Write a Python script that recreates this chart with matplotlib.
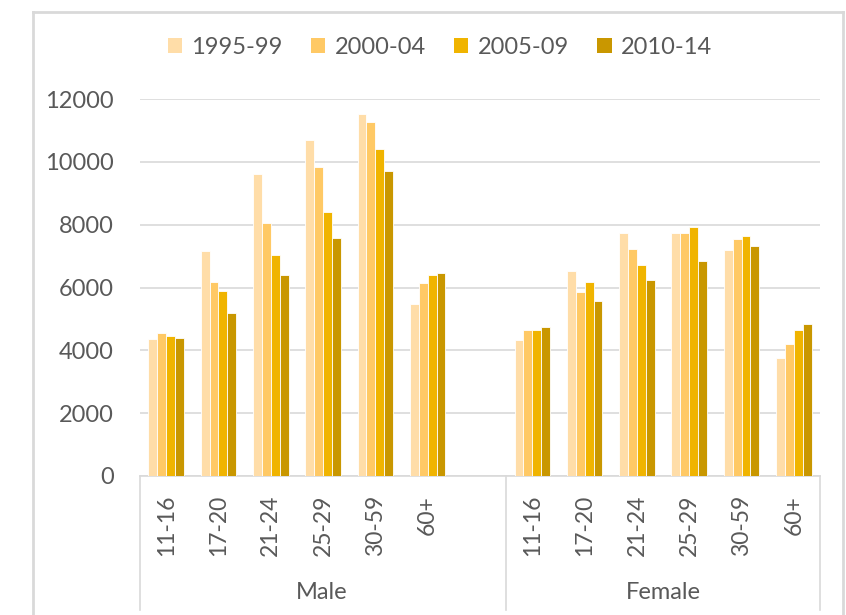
import matplotlib.pyplot as plt
from matplotlib.lines import Line2D
from matplotlib.patches import Patch
import numpy as np

plt.rcParams['font.family'] = ['Lato', 'DejaVu Sans']

# data
age_groups = ["11-16", "17-20", "21-24", "25-29", "30-59", "60+"]
sexes = ["Male", "Female"]
periods = ["1995-99", "2000-04", "2005-09", "2010-14"]
colors = ["#FFDDA8", "#FFC965", "#F0B400", "#C99700"]

male = {
    "1995-99": [4370, 7150, 9600, 10700, 11520, 5470],
    "2000-04": [4540, 6170, 8040, 9840, 11260, 6130],
    "2005-09": [4450, 5890, 7030, 8390, 10400, 6400],
    "2010-14": [4400, 5200, 6400, 7570, 9710, 6470],
}
female = {
    "1995-99": [4340, 6540, 7750, 7750, 7190, 3760],
    "2000-04": [4650, 5860, 7230, 7750, 7530, 4200],
    "2005-09": [4650, 6170, 6720, 7920, 7640, 4650],
    "2010-14": [4750, 5580, 6230, 6840, 7330, 4850],
}

fig = plt.figure(figsize=(8.46, 6.15), dpi=100)
W, H = 846, 615
ax = fig.add_axes([140 / W, 1 - 476 / H, 680 / W, 377 / H])

# slots: 0-5 male, 6 empty, 7-12 female
male_x = np.arange(6)
female_x = np.arange(6) + 7
w = 0.17
for i, p in enumerate(periods):
    off = (i - 1.5) * w
    ax.bar(male_x + off, male[p], width=w, color=colors[i], edgecolor="white", linewidth=0.6, zorder=3)
    ax.bar(female_x + off, female[p], width=w, color=colors[i], edgecolor="white", linewidth=0.6, zorder=3)

ax.set_xlim(-0.5, 12.5)
ax.set_ylim(0, 12000)
ax.set_yticks(range(0, 12001, 2000))
ax.tick_params(axis="y", length=0, labelsize=17, labelcolor="#595959", pad=19)
ax.set_xticks([])
ax.grid(axis="y", color="#D9D9D9", linewidth=1.2, zorder=0)
for s in ["left", "right", "top"]:
    ax.spines[s].set_visible(False)
ax.spines["bottom"].set_color("#D9D9D9")
ax.spines["bottom"].set_linewidth(1.2)

# category labels
tr = ax.get_xaxis_transform()
for xs in (male_x, female_x):
    for x, lab in zip(xs, age_groups):
        ax.text(x, -0.05, lab, rotation=90, ha="center", va="top", fontsize=16.5,
                color="#595959", transform=tr)
ax.text(2.98, -0.31, "Male", ha="center", va="center", fontsize=17, color="#595959", transform=tr)
ax.text(9.5, -0.31, "Female", ha="center", va="center", fontsize=17, color="#595959", transform=tr)
for x in (-0.5, 6.5, 12.5):
    ax.plot([x, x], [0, -0.355], color="#D9D9D9", linewidth=1.2, transform=tr, clip_on=False)

# legend
handles = [Patch(facecolor=c, edgecolor="none") for c in colors]
fig.legend(handles, periods, loc="center", bbox_to_anchor=(440 / W, 1 - 47 / H), ncol=4,
           frameon=False, fontsize=17, labelcolor="#595959", handlelength=0.6, handleheight=0.6,
           handletextpad=0.4, columnspacing=1.2)

# outer chart frame
fl, fr, ft = 33 / W, 843 / W, 1 - 12 / H
for xs, ys in [([fl, fl], [ft, 0]), ([fr, fr], [ft, 0]), ([fl, fr], [ft, ft])]:
    fig.add_artist(Line2D(xs, ys, color="#D9D9D9", linewidth=2, transform=fig.transFigure))

fig.savefig("out.png", dpi=100)
